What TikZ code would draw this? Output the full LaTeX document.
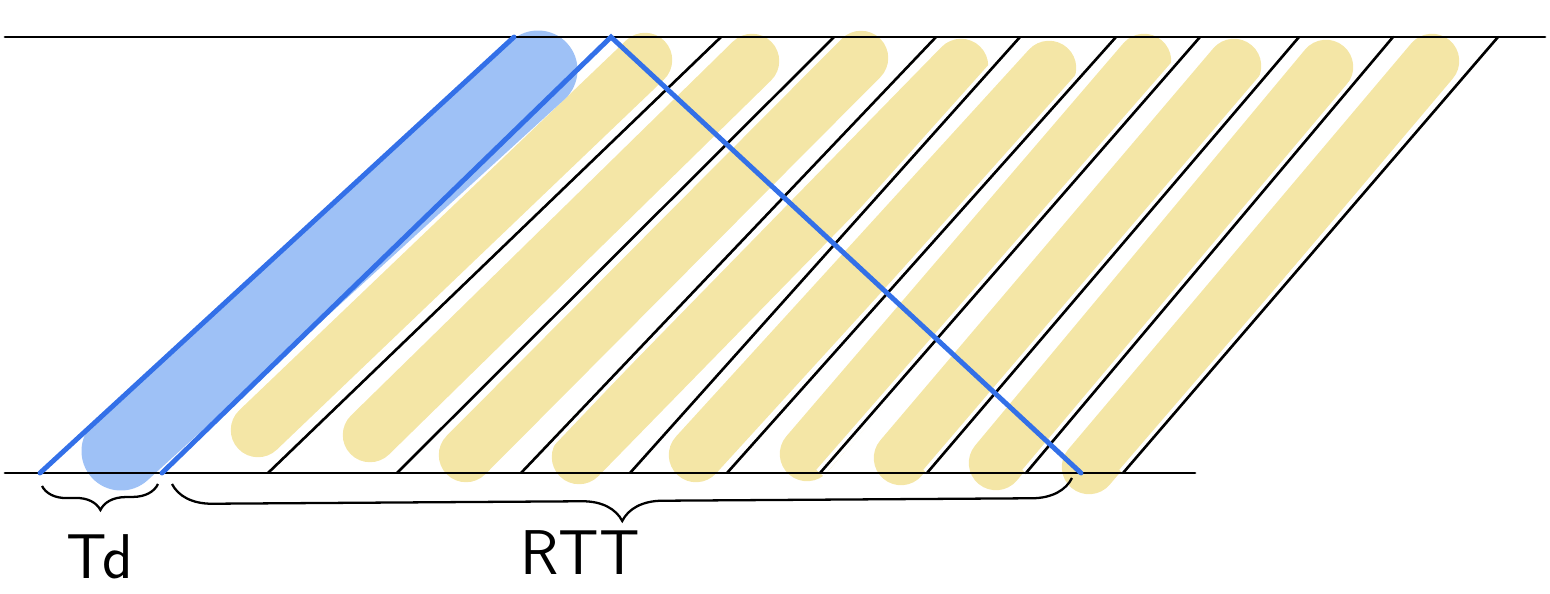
\documentclass[tikz,border=0pt]{standalone}
\usetikzlibrary{decorations.pathreplacing}
\definecolor{hlyellow}{HTML}{F4E6A6}
\definecolor{hlblue}{HTML}{9EC1F6}
\definecolor{pkblue}{HTML}{3370E8}
\tikzset{
  rail/.style={line width=1.6pt, line cap=round},
  pkt/.style={line width=1.5pt, line cap=round},
  halo/.style={white, line width=5.5pt},
  ack/.style={pkblue, line width=2.8pt, line cap=round, line join=miter},
  yhl/.style={hlyellow, line width=31pt, line cap=round},
  bhl/.style={hlblue, line width=45pt, line cap=round},
  span/.style={decorate, decoration={brace, mirror, amplitude=#1}, line width=1.3pt},
  lbl/.style={font=\sffamily\fontsize{36}{40}\selectfont, inner sep=0pt}
}
\begin{document}
\begin{tikzpicture}[x=0.02cm, y=-0.02cm]
    \useasboundingbox (0,0) rectangle (1550,594);
    % the two time lines
    \coordinate (tl) at (5,37);
    \coordinate (tr) at (1545,37);
    \coordinate (bl) at (5,473);
    \coordinate (br) at (1195,473);
    % packet ends: bottom (b) and top (t)
    \coordinate (b0) at (40,473);   \coordinate (t0) at (514,37);
    \coordinate (b1) at (162,473);  \coordinate (t1) at (611,37);
    \coordinate (b2) at (268,473);  \coordinate (t2) at (721,37);
    \coordinate (b3) at (397,473);  \coordinate (t3) at (834,37);
    \coordinate (b4) at (521,473);  \coordinate (t4) at (936,37);
    \coordinate (b5) at (630,473);  \coordinate (t5) at (1020,37);
    \coordinate (b6) at (727,473);  \coordinate (t6) at (1116,37);
    \coordinate (b7) at (820,473);  \coordinate (t7) at (1200,37);
    \coordinate (b8) at (927,473);  \coordinate (t8) at (1299,37);
    \coordinate (b9) at (1026,473); \coordinate (t9) at (1393,37);
    \coordinate (b10) at (1123,473); \coordinate (t10) at (1498,37);
    \coordinate (ackend) at (1081,473);
    % highlighter strokes
    \draw [yhl] (258,430) -- (645,60);
    \draw [yhl] (370,435) -- (752,61);
    \draw [yhl] (466,455) -- (861,58);
    \draw [yhl] (579,457) -- (961,66);
    \draw [yhl] (696,455) -- (1049,68);
    \draw [yhl] (807,454) -- (1144,61);
    \draw [yhl] (901,458) -- (1234,66);
    \draw [yhl] (996,463) -- (1326,67);
    \draw [yhl] (1089,467) -- (1432,61);
    \draw [halo] (b1) -- (t1);
    \draw [halo] (b2) -- (t2);
    \draw [halo] (b3) -- (t3);
    \draw [halo] (b4) -- (t4);
    \draw [halo] (b5) -- (t5);
    \draw [halo] (b6) -- (t6);
    \draw [halo] (b7) -- (t7);
    \draw [halo] (b8) -- (t8);
    \draw [halo] (b9) -- (t9);
    \draw [halo] (b10) -- (t10);
    \draw [bhl] (121,451) -- (538,70);
    % packets
    \draw [pkt] (b2) -- (t2);
    \draw [pkt] (b3) -- (t3);
    \draw [pkt] (b4) -- (t4);
    \draw [pkt] (b5) -- (t5);
    \draw [pkt] (b6) -- (t6);
    \draw [pkt] (b7) -- (t7);
    \draw [pkt] (b8) -- (t8);
    \draw [pkt] (b9) -- (t9);
    \draw [pkt] (b10) -- (t10);
    \draw [rail] (tl) -- (tr);
    \draw [rail] (bl) -- (br);
    \draw [ack] (b0) -- (t0);
    \draw [ack] (b1) -- (t1) -- (ackend);
    % spans
    \coordinate (tda) at (42,486);
    \coordinate (tdb) at (158,484);
    \coordinate (rtta) at (172,484);
    \coordinate (rttb) at (1072,478);
    \draw [span=0.5cm] (tda) -- (tdb);
    \draw [span=0.8cm] (rtta) -- (rttb);
    \node [lbl] (td) at (100,557) {Td};
    \node [lbl] (rtt) at (580,553) {RTT};
\end{tikzpicture}
\end{document}
